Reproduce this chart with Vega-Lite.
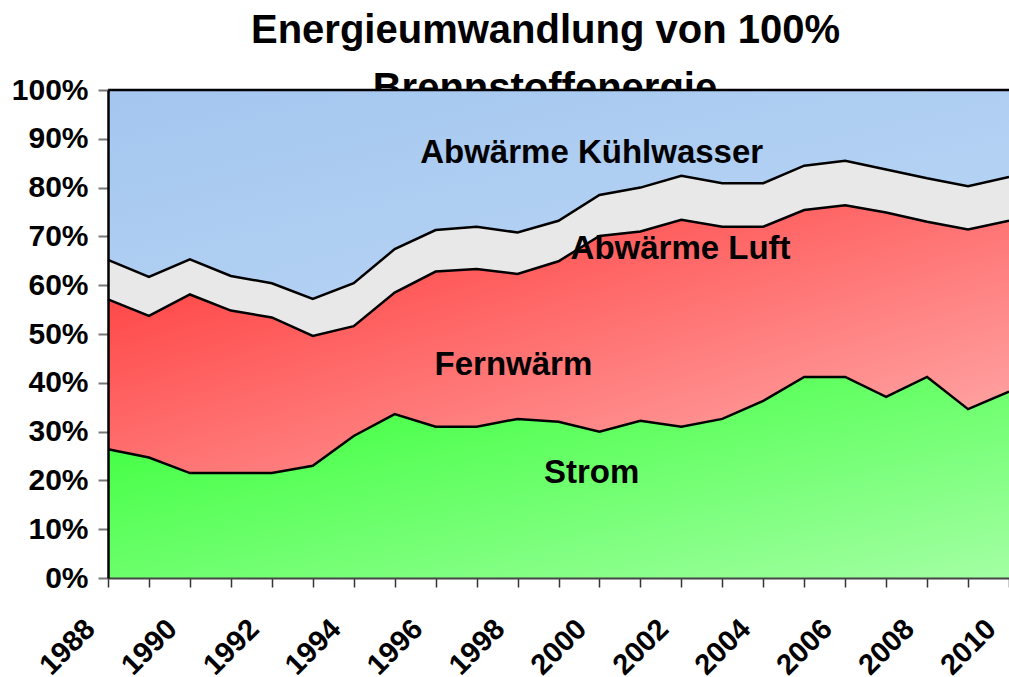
{
  "$schema": "https://vega.github.io/schema/vega-lite/v6.json",
  "width": 901,
  "height": 488,
  "autosize": {"type": "none"},
  "padding": {"left": 108, "top": 90, "right": 0, "bottom": 99},
  "background": "white",
  "config": {"view": {"stroke": null}, "font": "Liberation Sans"},
  "title": {
    "text": "Energieumwandlung von 100%",
    "font": "Liberation Sans",
    "fontSize": 40,
    "fontWeight": "bold",
    "color": "black",
    "anchor": "middle",
    "dx": -13,
    "offset": 18
  },
  "data": {
    "values": [
      {"year": 1988, "series": "Strom", "value": 26.4}, {"year": 1988, "series": "Fernwärme", "value": 30.7}, {"year": 1988, "series": "Abwärme Luft", "value": 8.1}, {"year": 1988, "series": "Abwärme Kühlwasser", "value": 34.8},
      {"year": 1989, "series": "Strom", "value": 24.7}, {"year": 1989, "series": "Fernwärme", "value": 29.0}, {"year": 1989, "series": "Abwärme Luft", "value": 8.0}, {"year": 1989, "series": "Abwärme Kühlwasser", "value": 38.3},
      {"year": 1990, "series": "Strom", "value": 21.5}, {"year": 1990, "series": "Fernwärme", "value": 36.6}, {"year": 1990, "series": "Abwärme Luft", "value": 7.2}, {"year": 1990, "series": "Abwärme Kühlwasser", "value": 34.7},
      {"year": 1991, "series": "Strom", "value": 21.5}, {"year": 1991, "series": "Fernwärme", "value": 33.3}, {"year": 1991, "series": "Abwärme Luft", "value": 7.1}, {"year": 1991, "series": "Abwärme Kühlwasser", "value": 38.1},
      {"year": 1992, "series": "Strom", "value": 21.5}, {"year": 1992, "series": "Fernwärme", "value": 31.9}, {"year": 1992, "series": "Abwärme Luft", "value": 7.0}, {"year": 1992, "series": "Abwärme Kühlwasser", "value": 39.6},
      {"year": 1993, "series": "Strom", "value": 23.0}, {"year": 1993, "series": "Fernwärme", "value": 26.6}, {"year": 1993, "series": "Abwärme Luft", "value": 7.6}, {"year": 1993, "series": "Abwärme Kühlwasser", "value": 42.8},
      {"year": 1994, "series": "Strom", "value": 29.1}, {"year": 1994, "series": "Fernwärme", "value": 22.5}, {"year": 1994, "series": "Abwärme Luft", "value": 8.8}, {"year": 1994, "series": "Abwärme Kühlwasser", "value": 39.6},
      {"year": 1995, "series": "Strom", "value": 33.6}, {"year": 1995, "series": "Fernwärme", "value": 24.9}, {"year": 1995, "series": "Abwärme Luft", "value": 8.9}, {"year": 1995, "series": "Abwärme Kühlwasser", "value": 32.6},
      {"year": 1996, "series": "Strom", "value": 31.0}, {"year": 1996, "series": "Fernwärme", "value": 31.8}, {"year": 1996, "series": "Abwärme Luft", "value": 8.5}, {"year": 1996, "series": "Abwärme Kühlwasser", "value": 28.7},
      {"year": 1997, "series": "Strom", "value": 31.0}, {"year": 1997, "series": "Fernwärme", "value": 32.3}, {"year": 1997, "series": "Abwärme Luft", "value": 8.7}, {"year": 1997, "series": "Abwärme Kühlwasser", "value": 28.0},
      {"year": 1998, "series": "Strom", "value": 32.6}, {"year": 1998, "series": "Fernwärme", "value": 29.7}, {"year": 1998, "series": "Abwärme Luft", "value": 8.5}, {"year": 1998, "series": "Abwärme Kühlwasser", "value": 29.2},
      {"year": 1999, "series": "Strom", "value": 32.0}, {"year": 1999, "series": "Fernwärme", "value": 32.9}, {"year": 1999, "series": "Abwärme Luft", "value": 8.3}, {"year": 1999, "series": "Abwärme Kühlwasser", "value": 26.8},
      {"year": 2000, "series": "Strom", "value": 30.0}, {"year": 2000, "series": "Fernwärme", "value": 40.1}, {"year": 2000, "series": "Abwärme Luft", "value": 8.4}, {"year": 2000, "series": "Abwärme Kühlwasser", "value": 21.5},
      {"year": 2001, "series": "Strom", "value": 32.2}, {"year": 2001, "series": "Fernwärme", "value": 38.8}, {"year": 2001, "series": "Abwärme Luft", "value": 9.0}, {"year": 2001, "series": "Abwärme Kühlwasser", "value": 20.0},
      {"year": 2002, "series": "Strom", "value": 31.0}, {"year": 2002, "series": "Fernwärme", "value": 42.4}, {"year": 2002, "series": "Abwärme Luft", "value": 9.0}, {"year": 2002, "series": "Abwärme Kühlwasser", "value": 17.6},
      {"year": 2003, "series": "Strom", "value": 32.6}, {"year": 2003, "series": "Fernwärme", "value": 39.4}, {"year": 2003, "series": "Abwärme Luft", "value": 8.9}, {"year": 2003, "series": "Abwärme Kühlwasser", "value": 19.1},
      {"year": 2004, "series": "Strom", "value": 36.3}, {"year": 2004, "series": "Fernwärme", "value": 35.7}, {"year": 2004, "series": "Abwärme Luft", "value": 8.9}, {"year": 2004, "series": "Abwärme Kühlwasser", "value": 19.1},
      {"year": 2005, "series": "Strom", "value": 41.2}, {"year": 2005, "series": "Fernwärme", "value": 34.2}, {"year": 2005, "series": "Abwärme Luft", "value": 9.1}, {"year": 2005, "series": "Abwärme Kühlwasser", "value": 15.5},
      {"year": 2006, "series": "Strom", "value": 41.2}, {"year": 2006, "series": "Fernwärme", "value": 35.2}, {"year": 2006, "series": "Abwärme Luft", "value": 9.1}, {"year": 2006, "series": "Abwärme Kühlwasser", "value": 14.5},
      {"year": 2007, "series": "Strom", "value": 37.1}, {"year": 2007, "series": "Fernwärme", "value": 37.8}, {"year": 2007, "series": "Abwärme Luft", "value": 8.8}, {"year": 2007, "series": "Abwärme Kühlwasser", "value": 16.3},
      {"year": 2008, "series": "Strom", "value": 41.2}, {"year": 2008, "series": "Fernwärme", "value": 31.8}, {"year": 2008, "series": "Abwärme Luft", "value": 8.9}, {"year": 2008, "series": "Abwärme Kühlwasser", "value": 18.1},
      {"year": 2009, "series": "Strom", "value": 34.6}, {"year": 2009, "series": "Fernwärme", "value": 36.8}, {"year": 2009, "series": "Abwärme Luft", "value": 8.9}, {"year": 2009, "series": "Abwärme Kühlwasser", "value": 19.7},
      {"year": 2010, "series": "Strom", "value": 38.2}, {"year": 2010, "series": "Fernwärme", "value": 35.0}, {"year": 2010, "series": "Abwärme Luft", "value": 9.0}, {"year": 2010, "series": "Abwärme Kühlwasser", "value": 17.8}
    ]
  },
  "layer": [
    {
      "data": {"values": [{"year": 1998.67, "pct": 97.8, "label": "Brennstoffenergie"}]},
      "mark": {"type": "text", "font": "Liberation Sans", "fontWeight": "bold", "fontSize": 40, "color": "black", "align": "center", "baseline": "alphabetic"},
      "encoding": {
        "x": {"field": "year", "type": "quantitative"},
        "y": {"field": "pct", "type": "quantitative"},
        "text": {"field": "label"}
      }
    },
    {
      "transform": [
        {"stack": "value", "groupby": ["year"], "sort": [{"field": "series", "order": "descending"}], "as": ["v0", "v1"]},
        {"filter": "datum.series === 'Strom'"}
      ],
      "mark": {"type": "area", "fill": {"gradient": "linear", "x1": 0, "y1": 0, "x2": 1, "y2": 1, "stops": [{"offset": 0, "color": "#33ff33"}, {"offset": 1, "color": "#a3ffa3"}]}},
      "encoding": {
        "x": {"field": "year", "type": "quantitative", "scale": {"domain": [1988, 2010], "nice": false, "zero": false},
          "axis": {"title": null, "values": [1988,1989,1990,1991,1992,1993,1994,1995,1996,1997,1998,1999,2000,2001,2002,2003,2004,2005,2006,2007,2008,2009,2010],
            "format": "d", "labelExpr": "datum.value % 2 === 0 ? datum.label : ''", "labelAngle": -45, "labelFont": "Liberation Sans", "labelFontWeight": "bold", "labelFontSize": 29, "labelColor": "black", "labelPadding": 27, "labelOffset": -28, "labelOverlap": false, "labelBound": false, "labelFlush": false,
            "domainColor": "#444", "domainWidth": 2, "tickColor": "#333", "tickWidth": 1.5, "tickSize": 9, "grid": false, "zindex": 1}},
        "y": {"field": "v1", "type": "quantitative", "scale": {"domain": [0, 100], "nice": false},
          "axis": {"title": null, "values": [0,10,20,30,40,50,60,70,80,90,100], "labelExpr": "datum.value + '%'", "labelFont": "Liberation Sans", "labelFontWeight": "bold", "labelFontSize": 30, "labelColor": "black", "labelPadding": 10,
            "domainColor": "black", "domainWidth": 2.5, "tickColor": "#777", "tickWidth": 2, "tickSize": 10, "grid": false, "zindex": 1}},
        "y2": {"field": "v0"}
      }
    },
    {
      "transform": [
        {"stack": "value", "groupby": ["year"], "sort": [{"field": "series", "order": "descending"}], "as": ["v0", "v1"]},
        {"filter": "datum.series === 'Fernwärme'"}
      ],
      "mark": {"type": "area", "fill": {"gradient": "linear", "x1": 0, "y1": 0, "x2": 1, "y2": 1, "stops": [{"offset": 0, "color": "#ff3333"}, {"offset": 1, "color": "#ffb0b0"}]}},
      "encoding": {
        "x": {"field": "year", "type": "quantitative"},
        "y": {"field": "v1", "type": "quantitative"},
        "y2": {"field": "v0"}
      }
    },
    {
      "transform": [
        {"stack": "value", "groupby": ["year"], "sort": [{"field": "series", "order": "descending"}], "as": ["v0", "v1"]},
        {"filter": "datum.series === 'Abwärme Luft'"}
      ],
      "mark": {"type": "area", "fill": "#e8e8e8"},
      "encoding": {
        "x": {"field": "year", "type": "quantitative"},
        "y": {"field": "v1", "type": "quantitative"},
        "y2": {"field": "v0"}
      }
    },
    {
      "transform": [
        {"stack": "value", "groupby": ["year"], "sort": [{"field": "series", "order": "descending"}], "as": ["v0", "v1"]},
        {"filter": "datum.series === 'Abwärme Kühlwasser'"}
      ],
      "mark": {"type": "area", "fill": {"gradient": "linear", "x1": 0, "y1": 0, "x2": 1, "y2": 1, "stops": [{"offset": 0, "color": "#a4c6ef"}, {"offset": 1, "color": "#bad7f5"}]}},
      "encoding": {
        "x": {"field": "year", "type": "quantitative"},
        "y": {"field": "v1", "type": "quantitative"},
        "y2": {"field": "v0"}
      }
    },
    {
      "transform": [
        {"stack": "value", "groupby": ["year"], "sort": [{"field": "series", "order": "descending"}], "as": ["v0", "v1"]}
      ],
      "mark": {"type": "line", "color": "black", "strokeWidth": 2.5},
      "encoding": {
        "x": {"field": "year", "type": "quantitative"},
        "y": {"field": "v1", "type": "quantitative"},
        "detail": {"field": "series"}
      }
    },
    {
      "data": {
        "values": [
          {"year": 1999.81, "pct": 85.0, "label": "Abwärme Kühlwasser"},
          {"year": 2001.98, "pct": 65.4, "label": "Abwärme Luft"},
          {"year": 1997.9, "pct": 41.6, "label": "Fernwärm"},
          {"year": 1999.81, "pct": 19.5, "label": "Strom"}
        ]
      },
      "mark": {"type": "text", "font": "Liberation Sans", "fontWeight": "bold", "fontSize": 33, "color": "black", "align": "center", "baseline": "alphabetic"},
      "encoding": {
        "x": {"field": "year", "type": "quantitative"},
        "y": {"field": "pct", "type": "quantitative"},
        "text": {"field": "label"}
      }
    }
  ]
}
